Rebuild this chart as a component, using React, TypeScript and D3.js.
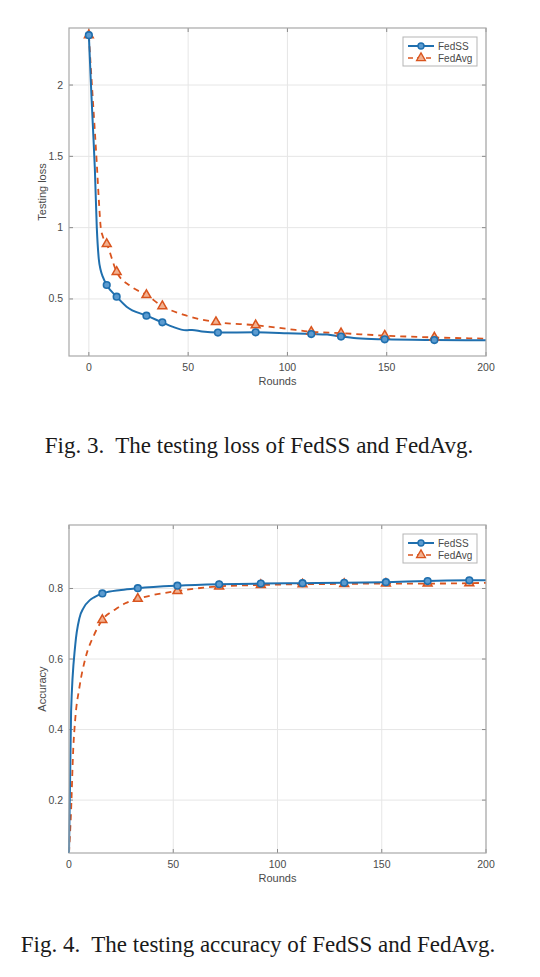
import { useRef, useEffect } from 'react';
import * as d3 from 'd3';

// ---- data ----
const LOSS_FEDSS_ROUNDS = [0, 1, 2, 3, 4, 5, 6, 7, 9, 14, 19, 29, 37, 42, 49, 52, 57, 65, 84, 100, 112, 120, 127, 135, 149, 174, 200];
const LOSS_FEDSS = [2.35, 2.02, 1.72, 1.42, 1.0, 0.78, 0.7, 0.656, 0.598, 0.516, 0.446, 0.383, 0.336, 0.306, 0.28, 0.283, 0.272, 0.264, 0.266, 0.26, 0.254, 0.25, 0.236, 0.224, 0.217, 0.212, 0.21];
const LOSS_FEDSS_MARKS = [0, 9, 14, 29, 37, 65, 84, 112, 127, 149, 174];

const LOSS_FEDAVG_ROUNDS = [0, 1, 2, 3, 4, 5, 6, 7, 9, 14, 21, 29, 37, 48, 64, 84, 100, 112, 127, 149, 174, 200];
const LOSS_FEDAVG = [2.35, 2.12, 1.9, 1.68, 1.45, 1.2, 1.0, 0.94, 0.886, 0.69, 0.59, 0.528, 0.45, 0.388, 0.338, 0.316, 0.29, 0.27, 0.26, 0.243, 0.23, 0.222];
const LOSS_FEDAVG_MARKS = [0, 9, 14, 29, 37, 64, 84, 112, 127, 149, 174];

const ACC_FEDSS_ROUNDS = [0, 1, 3, 5, 7, 10, 12, 16, 25, 33, 52, 72, 92, 112, 132, 152, 172, 192, 200];
const ACC_FEDSS = [0.05, 0.45, 0.64, 0.716, 0.745, 0.767, 0.775, 0.786, 0.796, 0.801, 0.808, 0.812, 0.814, 0.815, 0.816, 0.818, 0.821, 0.823, 0.823];
const ACC_FEDSS_MARKS = [16, 33, 52, 72, 92, 112, 132, 152, 172, 192];

const ACC_FEDAVG_ROUNDS = [0, 1, 2, 3, 5, 8, 12, 16, 22, 27, 33, 40, 52, 72, 92, 112, 132, 152, 172, 192, 200];
const ACC_FEDAVG = [0.05, 0.17, 0.34, 0.43, 0.52, 0.605, 0.668, 0.711, 0.74, 0.758, 0.771, 0.781, 0.793, 0.806, 0.81, 0.812, 0.813, 0.814, 0.814, 0.815, 0.816];
const ACC_FEDAVG_MARKS = [16, 33, 52, 72, 92, 112, 132, 152, 172, 192];

const X_TICKS = [0, 50, 100, 150, 200];
const LOSS_Y_TICKS = [0.5, 1, 1.5, 2];
const ACC_Y_TICKS = [0.2, 0.4, 0.6, 0.8];
const SERIES_NAMES = ['FedSS', 'FedAvg'];

const BLUE = '#1f6fae';
const RED = '#d9541e';
const SANS = 'Liberation Sans, Arial, sans-serif';

type Pt = { r: number; v: number };
const zip = (rs: number[], vs: number[]): Pt[] => rs.map((r, i) => ({ r, v: vs[i] }));

interface PanelProps {
  top: number;
  xDomain: [number, number];
  yDomain: [number, number];
  yTicks: number[];
  yLabel: string;
  ssRounds: number[];
  ss: number[];
  ssMarks: number[];
  avgRounds: number[];
  avg: number[];
  avgMarks: number[];
}

const LEFT = 69;
const RIGHT = 486;
const PLOT_H = 328;

function Panel(p: PanelProps) {
  const gRef = useRef<SVGGElement>(null);

  useEffect(() => {
    if (!gRef.current) return;
    const g = d3.select(gRef.current);
    g.selectAll('*').remove();

    const x = d3.scaleLinear().domain(p.xDomain).range([LEFT, RIGHT]);
    const y = d3.scaleLinear().domain(p.yDomain).range([p.top + PLOT_H, p.top]);
    const y0 = p.top;
    const y1 = p.top + PLOT_H;

    // grid
    g.append('g')
      .selectAll('line')
      .data(X_TICKS)
      .join('line')
      .attr('x1', (d) => x(d)).attr('x2', (d) => x(d))
      .attr('y1', y0).attr('y2', y1)
      .attr('stroke', '#e6e6e6').attr('stroke-width', 1);
    g.append('g')
      .selectAll('line')
      .data(p.yTicks)
      .join('line')
      .attr('x1', LEFT).attr('x2', RIGHT)
      .attr('y1', (d) => y(d)).attr('y2', (d) => y(d))
      .attr('stroke', '#e6e6e6').attr('stroke-width', 1);

    // inner ticks (MATLAB style)
    const ticks = g.append('g').attr('stroke', '#8a8a8a').attr('stroke-width', 1);
    X_TICKS.forEach((t) => {
      ticks.append('line').attr('x1', x(t)).attr('x2', x(t)).attr('y1', y1).attr('y2', y1 - 4);
      ticks.append('line').attr('x1', x(t)).attr('x2', x(t)).attr('y1', y0).attr('y2', y0 + 4);
    });
    p.yTicks.forEach((t) => {
      ticks.append('line').attr('x1', LEFT).attr('x2', LEFT + 4).attr('y1', y(t)).attr('y2', y(t));
      ticks.append('line').attr('x1', RIGHT).attr('x2', RIGHT - 4).attr('y1', y(t)).attr('y2', y(t));
    });

    // tick labels
    g.append('g')
      .selectAll('text')
      .data(X_TICKS)
      .join('text')
      .attr('x', (d) => x(d))
      .attr('y', y1 + 15)
      .attr('text-anchor', 'middle')
      .attr('font-family', SANS).attr('font-size', 10.5).attr('fill', '#4a4a4a')
      .text((d) => String(d));
    g.append('g')
      .selectAll('text')
      .data(p.yTicks)
      .join('text')
      .attr('x', LEFT - 6)
      .attr('y', (d) => y(d) + 3.5)
      .attr('text-anchor', 'end')
      .attr('font-family', SANS).attr('font-size', 10.5).attr('fill', '#4a4a4a')
      .text((d) => String(d));

    // axis labels
    g.append('text')
      .attr('x', (LEFT + RIGHT) / 2)
      .attr('y', y1 + 29)
      .attr('text-anchor', 'middle')
      .attr('font-family', SANS).attr('font-size', 11).attr('fill', '#4a4a4a')
      .text('Rounds');
    g.append('text')
      .attr('transform', `translate(46,${(y0 + y1) / 2}) rotate(-90)`)
      .attr('text-anchor', 'middle')
      .attr('font-family', SANS).attr('font-size', 11).attr('fill', '#4a4a4a')
      .text(p.yLabel);

    const line = d3.line<Pt>()
      .x((d) => x(d.r))
      .y((d) => y(d.v))
      .curve(d3.curveMonotoneX);

    const ss = zip(p.ssRounds, p.ss);
    const avg = zip(p.avgRounds, p.avg);
    const lookup = (pts: Pt[], r: number) => pts.find((d) => d.r === r) as Pt;

    const plot = g.append('g');

    plot.append('path')
      .datum(avg)
      .attr('fill', 'none')
      .attr('stroke', RED)
      .attr('stroke-width', 1.8)
      .attr('stroke-dasharray', '6,5')
      .attr('d', line);

    plot.append('path')
      .datum(ss)
      .attr('fill', 'none')
      .attr('stroke', BLUE)
      .attr('stroke-width', 2)
      .attr('d', line);

    const tri = d3.symbol().type(d3.symbolTriangle).size(34);
    plot.selectAll('path.tri')
      .data(p.avgMarks.map((r) => lookup(avg, r)))
      .join('path')
      .attr('class', 'tri')
      .attr('transform', (d) => `translate(${x(d.r)},${y(d.v)})`)
      .attr('d', tri() as string)
      .attr('fill', '#f2b08f')
      .attr('stroke', RED)
      .attr('stroke-width', 1.5);

    plot.selectAll('circle')
      .data(p.ssMarks.map((r) => lookup(ss, r)))
      .join('circle')
      .attr('cx', (d) => x(d.r))
      .attr('cy', (d) => y(d.v))
      .attr('r', 3.3)
      .attr('fill', '#5b9bd0')
      .attr('stroke', BLUE)
      .attr('stroke-width', 1.6);

    // box
    g.append('rect')
      .attr('x', LEFT).attr('y', y0)
      .attr('width', RIGHT - LEFT).attr('height', PLOT_H)
      .attr('fill', 'none').attr('stroke', '#a8a8a8').attr('stroke-width', 1.2);

    // legend
    const lg = g.append('g').attr('transform', `translate(403,${y0 + 9})`);
    lg.append('rect')
      .attr('width', 74).attr('height', 29)
      .attr('fill', '#fff').attr('stroke', '#b5b5b5').attr('stroke-width', 1);
    SERIES_NAMES.forEach((name, i) => {
      const ly = 9 + i * 12;
      const c = i === 0 ? BLUE : RED;
      lg.append('line')
        .attr('x1', 5).attr('x2', 31).attr('y1', ly).attr('y2', ly)
        .attr('stroke', c).attr('stroke-width', i === 0 ? 2 : 1.6)
        .attr('stroke-dasharray', i === 0 ? null : '5,4');
      if (i === 0) {
        lg.append('circle').attr('cx', 18).attr('cy', ly).attr('r', 3)
          .attr('fill', '#5b9bd0').attr('stroke', BLUE).attr('stroke-width', 1.4);
      } else {
        lg.append('path').attr('transform', `translate(18,${ly})`).attr('d', tri() as string)
          .attr('fill', '#f2b08f').attr('stroke', RED).attr('stroke-width', 1.3);
      }
      lg.append('text')
        .attr('x', 35).attr('y', ly + 3.5)
        .attr('font-family', SANS).attr('font-size', 10).attr('fill', '#4a4a4a')
        .text(name);
    });
  }, [p]);

  return <g ref={gRef} />;
}

export default function App() {
  const captionStyle = {
    fontFamily: 'Liberation Serif, Times New Roman, serif',
    fontSize: 23,
    fill: '#1a1a1a',
    whiteSpace: 'pre' as const,
  };
  return (
    <div style={{ position: 'absolute', left: 0, top: 0 }}>
      <svg width={540} height={977} viewBox="0 0 540 977" style={{ display: 'block', background: '#fff' }}>
        <Panel
          top={28}
          xDomain={[-10, 200]}
          yDomain={[0.1, 2.4]}
          yTicks={LOSS_Y_TICKS}
          yLabel="Testing loss"
          ssRounds={LOSS_FEDSS_ROUNDS}
          ss={LOSS_FEDSS}
          ssMarks={LOSS_FEDSS_MARKS}
          avgRounds={LOSS_FEDAVG_ROUNDS}
          avg={LOSS_FEDAVG}
          avgMarks={LOSS_FEDAVG_MARKS}
        />
        <text x={259} y={453} textAnchor="middle" style={captionStyle}>
          {'Fig. 3.  The testing loss of FedSS and FedAvg.'}
        </text>
        <Panel
          top={525}
          xDomain={[0, 200]}
          yDomain={[0.05, 0.98]}
          yTicks={ACC_Y_TICKS}
          yLabel="Accuracy"
          ssRounds={ACC_FEDSS_ROUNDS}
          ss={ACC_FEDSS}
          ssMarks={ACC_FEDSS_MARKS}
          avgRounds={ACC_FEDAVG_ROUNDS}
          avg={ACC_FEDAVG}
          avgMarks={ACC_FEDAVG_MARKS}
        />
        <text x={258} y={952} textAnchor="middle" style={captionStyle}>
          {'Fig. 4.  The testing accuracy of FedSS and FedAvg.'}
        </text>
      </svg>
    </div>
  );
}
